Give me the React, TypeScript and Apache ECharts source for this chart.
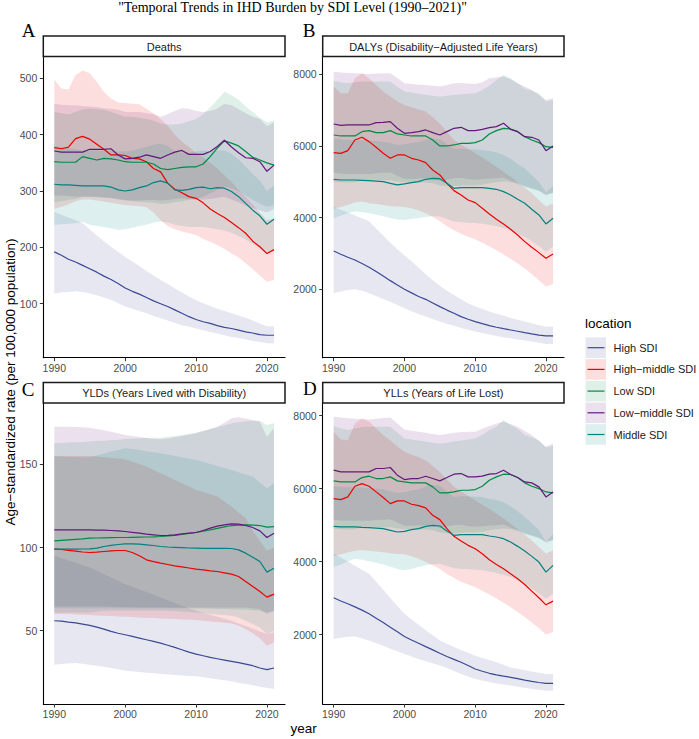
import React, { useEffect, useRef } from "react";
import * as echarts from "echarts";

// ---------- data ----------
const YEARS = [1990,1991,1992,1993,1994,1995,1996,1997,1998,1999,2000,2001,2002,2003,2004,2005,2006,2007,2008,2009,2010,2011,2012,2013,2014,2015,2016,2017,2018,2019,2020,2021];
const LOCATIONS = ["High SDI", "High\u2212middle SDI", "Low SDI", "Low\u2212middle SDI", "Middle SDI"];
const COLORS = ["#3B4992", "#EE0000", "#008B45", "#631879", "#008280"];
const PANEL_TITLES = ["Deaths", "DALYs (Disability\u2212Adjusted Life Years)", "YLDs (Years Lived with Disability)", "YLLs (Years of Life Lost)"];
const PANEL_LETTERS = ["A", "B", "C", "D"];
const X_TICKS = [1990, 2000, 2010, 2020];
const Y_TICKS_DEATHS = [100, 200, 300, 400, 500];
const Y_TICKS_DALYS = [2000, 4000, 6000, 8000];
const Y_TICKS_YLDS = [50, 100, 150];
const Y_TICKS_YLLS = [2000, 4000, 6000, 8000];

// Deaths
const DEATHS_HIGH = [192,186,179,174,168,162,156,149,143,136,128,122,117,111,105,100,95,89,83,77,72,68,65,61,58,56,53,50,48,45,44,44];
const DEATHS_HIGH_HI = [263,258,253,248,243,232,221,211,201,192,183,175,167,158,150,142,135,127,120,113,106,101,96,91,87,83,79,75,70,65,60,60];
const DEATHS_HIGH_LO = [118,120,121,122,121,118,115,111,107,101,95,91,87,83,78,74,70,66,62,59,56,53,50,47,44,41,39,37,34,32,30,30];
const DEATHS_HM = [377,375,378,393,397,392,383,374,364,364,363,358,357,352,340,334,314,303,297,290,287,279,268,260,253,244,235,225,211,201,189,196];
const DEATHS_HM_HI = [498,482,480,506,514,509,494,476,464,457,456,455,454,446,438,428,416,400,388,378,368,360,350,340,328,316,302,290,276,262,248,252];
const DEATHS_HM_LO = [268,272,276,282,285,285,283,281,279,277,275,274,273,271,262,248,238,232,228,225,222,215,210,204,197,189,182,172,161,150,139,142];
const DEATHS_LOW = [352,351,351,351,361,358,355,358,357,355,352,351,351,351,348,340,338,340,342,343,343,348,361,376,389,385,380,370,360,355,350,346];
const DEATHS_LOW_HI = [440,438,436,440,445,446,445,444,440,436,432,432,430,428,425,420,418,418,420,424,428,436,448,462,476,470,462,450,440,430,422,425];
const DEATHS_LOW_LO = [280,282,284,286,290,290,289,288,287,285,283,282,281,280,279,277,278,280,282,284,286,290,296,302,308,305,300,292,284,278,272,275];
const DEATHS_LM = [371,369,369,369,369,374,374,374,375,364,357,358,360,364,361,358,364,369,372,365,365,365,370,379,390,378,368,359,358,352,335,346];
const DEATHS_LM_HI = [455,453,452,452,451,450,449,447,446,444,440,440,440,438,436,432,436,442,447,446,442,440,442,446,455,452,445,438,432,428,415,422];
const DEATHS_LM_LO = [292,292,291,290,290,290,290,289,288,286,284,283,283,284,284,283,284,286,287,286,285,285,286,288,290,285,280,274,270,266,262,268];
const DEATHS_MID = [312,311,311,310,309,309,309,309,307,302,300,302,306,309,315,318,314,302,301,303,306,307,304,306,305,299,290,278,266,256,241,250];
const DEATHS_MID_HI = [380,378,376,374,372,372,372,372,371,370,370,372,375,378,382,384,380,370,368,368,370,372,370,372,372,366,356,343,330,318,300,310];
const DEATHS_MID_LO = [240,241,242,243,245,240,238,236,234,231,232,235,238,240,244,246,244,240,238,236,236,236,234,232,230,226,220,214,206,198,188,195];

// DALYs
const DALYS_HIGH = [3070,2980,2893,2819,2720,2614,2495,2372,2242,2120,2000,1900,1800,1720,1620,1516,1420,1330,1237,1165,1098,1040,986,940,900,865,830,791,755,720,698,698];
const DALYS_HIGH_HI = [4300,4220,4140,4060,3980,3900,3700,3500,3300,3120,2950,2780,2600,2420,2250,2100,1960,1840,1720,1610,1520,1450,1380,1320,1260,1200,1150,1100,1050,1000,960,960];
const DALYS_HIGH_LO = [1890,1940,1980,2000,1960,1890,1810,1730,1650,1560,1470,1390,1310,1240,1170,1100,1040,980,920,870,820,780,740,700,665,633,600,570,540,505,475,475];
const DALYS_HM = [5814,5795,5870,6167,6242,6121,5963,5795,5656,5749,5749,5656,5609,5535,5330,5191,4958,4754,4633,4493,4419,4260,4102,3954,3823,3675,3516,3330,3172,3023,2865,2986];
const DALYS_HM_HI = [7660,7470,7470,7890,8030,7890,7700,7520,7380,7250,7140,7080,7020,6960,6800,6630,6400,6170,6040,5920,5800,5680,5550,5420,5280,5140,4990,4840,4680,4490,4310,4400];
const DALYS_HM_LO = [4250,4300,4350,4420,4450,4400,4380,4350,4320,4310,4300,4260,4200,4120,4020,3900,3760,3650,3550,3470,3400,3300,3200,3090,2970,2850,2720,2580,2420,2250,2080,2150];
const DALYS_LOW = [6307,6279,6279,6279,6400,6428,6372,6372,6428,6335,6307,6279,6279,6279,6167,6000,6000,6028,6074,6074,6093,6167,6335,6428,6493,6474,6400,6260,6167,6093,5981,5963];
const DALYS_LOW_HI = [7820,7780,7750,7780,7800,7800,7800,7800,7800,7650,7520,7490,7460,7430,7400,7380,7400,7420,7440,7460,7470,7560,7680,7840,7980,7890,7750,7600,7540,7470,7240,7280];
const DALYS_LOW_LO = [5000,4990,4980,4990,5040,5060,5050,5040,5040,5010,4990,4980,4980,4980,4960,4900,4880,4880,4890,4900,4900,4920,4960,4990,5010,4990,4940,4860,4800,4740,4650,4680];
const DALYS_LM = [6614,6577,6586,6586,6586,6586,6651,6660,6679,6493,6353,6372,6400,6447,6372,6307,6400,6493,6521,6428,6428,6465,6512,6540,6633,6465,6400,6260,6242,6167,5870,6000];
const DALYS_LM_HI = [8070,8050,8040,8030,8020,8010,8020,8030,8030,7900,7750,7730,7710,7700,7680,7660,7700,7750,7760,7740,7730,7780,7890,7920,7940,7860,7750,7660,7560,7420,7280,7330];
const DALYS_LM_LO = [5250,5230,5220,5220,5220,5220,5240,5250,5260,5170,5080,5080,5090,5100,5070,5030,5060,5100,5110,5070,5060,5070,5090,5100,5120,5030,4970,4880,4820,4760,4620,4700];
const DALYS_MID = [5070,5051,5051,5051,5042,5033,5019,5005,4958,4912,4940,4977,5005,5070,5098,5088,4958,4819,4837,4837,4837,4837,4819,4791,4726,4633,4512,4400,4233,4075,3823,3981];
const DALYS_MID_HI = [6200,6180,6170,6170,6160,6150,6140,6120,6080,6030,6050,6080,6110,6170,6200,6190,6060,5920,5920,5910,5900,5890,5860,5820,5750,5640,5500,5370,5180,5000,4700,4880];
const DALYS_MID_LO = [3980,4050,4120,4170,4150,4120,4080,4040,3990,3950,3935,3960,3990,4020,4040,4030,3960,3890,3870,3860,3850,3830,3800,3760,3710,3650,3560,3460,3340,3210,3050,3200];

// YLDs
const YLDS_HIGH = [56,55.8,55.2,54.7,54,53.2,52.2,51,49.6,48.5,47.6,46.6,45.6,44.6,43.6,42.6,41.3,40,38.6,37.2,36,35,34,33.2,32.4,31.6,30.8,30,29,27.6,26.6,27.6];
const YLDS_HIGH_HI = [95,93.6,92.2,90.8,89.4,88,86,84,82,80,78,76.4,74.8,73.2,71.6,70,68.3,66.6,65,63.5,62,60.8,59.6,58.4,57.2,56,54.4,52.8,51.2,49.6,48,49];
const YLDS_HIGH_LO = [29.6,30,30.4,30.6,30.2,29.6,29,28.4,27.6,26.8,26,25.6,25.2,24.8,24.4,24,23.7,23.4,23.1,22.8,22.6,22,21.4,20.8,20.2,19.6,18.8,18,17.2,16.4,15.6,15];
const YLDS_HM = [99,98.8,98.3,97.8,97.3,97,97.2,97.6,98,98.2,98.2,97,95,92.6,91.5,90.6,89.8,89,88.4,87.7,87,86.6,86,85.6,84.8,84,82.6,79.6,76.6,73.6,70.2,72];
const YLDS_HM_HI = [155,155,155,155,155,155,154.6,154.2,153.8,153.4,153,151.5,150,148.6,146.6,144.6,142.6,140.6,138.6,136.6,134.6,133.3,132,130.6,127.6,124.6,121,117.6,110,104,98,100];
const YLDS_HM_LO = [60,60,60,59.8,59.6,59.4,59.2,59,58.8,58.6,58.4,58.2,58,57.8,57.6,57.4,57.2,57,56.8,56.6,56.4,56,55.6,55.2,54.8,54.4,53,51,48.5,45.5,41,43];
const YLDS_LOW = [104,104.3,104.6,104.9,105.2,105.6,105.7,105.8,105.9,106,106,106.1,106.2,106.3,106.4,106.6,106.9,107.3,107.8,108.4,109,109.8,110.6,111.5,112.4,113.2,113.5,113.6,113.5,113.2,112.2,112.6];
const YLDS_LOW_HI = [162.6,162.8,163,163.2,163.4,163.6,163.9,164.2,164.5,164.8,165.2,165.4,165.6,165.8,166,166,166.5,167,167.6,168.3,169,170,171,172.2,173.4,174.6,175.2,175.8,176.2,176.2,173.6,174.6];
const YLDS_LOW_LO = [63.5,63.5,63.5,63.5,63.5,63.5,63.5,63.5,63.5,63.5,63.5,63.5,63.5,63.5,63.5,63.5,63.5,63.5,63.5,63.5,63.4,63.3,63.2,63.1,63,62.9,62.8,62.6,62.3,62,61,62];
const YLDS_LM = [110.6,110.6,110.6,110.6,110.6,110.6,110.5,110.4,110.2,110,109.6,109.1,108.6,108,107.6,107.2,107.3,107.6,108.2,108.6,109,110.2,111.6,112.8,113.6,114.2,114,113.2,112,110,106,108.6];
const YLDS_LM_HI = [172.6,172.6,172.5,172.4,172.2,172,171.2,170.4,169.5,168.6,167.6,167,166.4,165.8,165.2,165,165.5,166.2,167,167.8,168.6,170,171.4,172.6,175,177.6,178.2,177.5,176.6,175.6,166.6,171.6];
const YLDS_LM_LO = [64.5,64.5,64.5,64.5,64.5,64.5,64.5,64.5,64.4,64.3,64.2,64.1,64,64,64,64,64,64,64,64,64,64,64,64,64,64,64,64,63.5,63,60,62];
const YLDS_MID = [99,99,99,99,99.1,99.2,99.6,100.6,101.3,101.8,102.2,102.2,102,101.6,101.2,100.6,100.3,100.1,99.9,99.7,99.6,99.5,99.5,99.5,99.5,99.4,98.6,96.6,94.2,91.6,85.2,87.6];
const YLDS_MID_HI = [154.6,154.5,154.4,154.3,154.2,154.2,155.2,156.4,157.6,158.6,159.6,159.2,158.6,157.8,157.2,156.6,155.8,155,154.2,153.4,152.6,151.4,150.2,149,147.8,146.6,145.2,143.8,142.6,139,135.6,138.6];
const YLDS_MID_LO = [61,61,61,61,61,61,61.5,62,62,62,62,62,62,62,62,62,62,61.8,61.5,61.3,61,60.6,60.2,59.8,59.4,59,58,56,54,52,48,50];

// YLLs
const YLLS_HIGH = [3008,2920,2843,2760,2670,2568,2450,2330,2202,2080,1945,1850,1762,1670,1580,1487,1400,1320,1240,1150,1057,995,938,895,860,828,790,752,718,685,663,663];
const YLLS_HIGH_HI = [4220,4110,4000,3890,3780,3670,3450,3230,3000,2780,2570,2420,2270,2120,1980,1835,1750,1660,1580,1500,1420,1360,1300,1240,1170,1100,1060,1020,985,950,920,920];
const YLLS_HIGH_LO = [1880,1910,1940,1945,1890,1835,1760,1690,1610,1540,1470,1400,1330,1270,1210,1150,1080,1000,920,850,780,740,700,660,630,600,570,540,510,485,460,460];
const YLLS_HM = [5728,5701,5774,6067,6140,6067,5912,5756,5591,5664,5664,5573,5536,5472,5270,5151,4904,4693,4565,4446,4354,4217,4052,3924,3805,3667,3530,3374,3191,3008,2815,2916];
const YLLS_HM_HI = [7560,7350,7330,7790,7930,7840,7650,7470,7320,7160,7010,6940,6860,6780,6620,6460,6250,6050,5930,5800,5680,5560,5440,5320,5180,5040,4890,4740,4580,4400,4220,4310];
const YLLS_HM_LO = [4150,4200,4250,4300,4320,4300,4280,4260,4230,4210,4200,4150,4080,3990,3900,3800,3660,3550,3450,3370,3300,3200,3100,2990,2870,2750,2620,2480,2330,2170,2000,2060];
const YLLS_LOW = [6214,6186,6186,6186,6305,6342,6278,6278,6324,6214,6186,6159,6159,6159,6049,5884,5884,5912,5957,5957,5976,6067,6232,6324,6397,6388,6305,6159,6067,6003,5911,5884];
const YLLS_LOW_HI = [7716,7660,7606,7650,7690,7698,7698,7698,7698,7540,7377,7350,7320,7290,7260,7240,7260,7290,7320,7350,7377,7480,7600,7698,7881,7744,7640,7469,7400,7331,7130,7167];
const YLLS_LOW_LO = [4900,4890,4880,4890,4940,4960,4950,4940,4940,4910,4890,4880,4880,4880,4860,4800,4780,4780,4790,4800,4800,4820,4860,4890,4910,4890,4840,4760,4700,4640,4550,4580];
const YLLS_LM = [6507,6461,6461,6461,6461,6461,6553,6553,6580,6370,6250,6278,6278,6342,6278,6214,6305,6397,6415,6324,6324,6342,6397,6415,6507,6388,6305,6186,6159,6049,5774,5911];
const YLLS_LM_HI = [7973,7950,7930,7915,7905,7900,7920,7940,7954,7790,7624,7590,7560,7530,7500,7469,7500,7530,7550,7560,7560,7640,7720,7789,7835,7770,7698,7580,7469,7310,7148,7240];
const YLLS_LM_LO = [5150,5130,5120,5120,5120,5120,5140,5150,5160,5070,4980,4980,4990,5000,4970,4930,4960,5000,5010,4970,4960,4970,4990,5000,5020,4930,4870,4780,4720,4660,4520,4600];
const YLLS_MID = [4968,4950,4950,4950,4940,4931,4918,4904,4858,4812,4831,4876,4904,4968,4996,4977,4840,4721,4739,4739,4739,4739,4702,4675,4629,4537,4418,4290,4144,3988,3713,3896];
const YLLS_MID_HI = [6070,6050,6040,6040,6030,6020,6000,5980,5930,5880,5900,5950,5980,6060,6100,6080,5920,5770,5790,5790,5780,5770,5720,5690,5630,5520,5380,5230,5050,4870,4540,4760];
const YLLS_MID_LO = [3850,3920,4000,4080,4050,4010,3970,3920,3860,3800,3760,3800,3850,3900,3930,3940,3880,3820,3800,3790,3780,3760,3730,3690,3640,3580,3490,3390,3260,3130,2980,3120];

// ---------- assembly ----------
type Trio = { val: number[]; lo: number[]; hi: number[] };
const PANEL_DATA: Trio[][] = [
  [
    { val: DEATHS_HIGH, lo: DEATHS_HIGH_LO, hi: DEATHS_HIGH_HI },
    { val: DEATHS_HM, lo: DEATHS_HM_LO, hi: DEATHS_HM_HI },
    { val: DEATHS_LOW, lo: DEATHS_LOW_LO, hi: DEATHS_LOW_HI },
    { val: DEATHS_LM, lo: DEATHS_LM_LO, hi: DEATHS_LM_HI },
    { val: DEATHS_MID, lo: DEATHS_MID_LO, hi: DEATHS_MID_HI },
  ],
  [
    { val: DALYS_HIGH, lo: DALYS_HIGH_LO, hi: DALYS_HIGH_HI },
    { val: DALYS_HM, lo: DALYS_HM_LO, hi: DALYS_HM_HI },
    { val: DALYS_LOW, lo: DALYS_LOW_LO, hi: DALYS_LOW_HI },
    { val: DALYS_LM, lo: DALYS_LM_LO, hi: DALYS_LM_HI },
    { val: DALYS_MID, lo: DALYS_MID_LO, hi: DALYS_MID_HI },
  ],
  [
    { val: YLDS_HIGH, lo: YLDS_HIGH_LO, hi: YLDS_HIGH_HI },
    { val: YLDS_HM, lo: YLDS_HM_LO, hi: YLDS_HM_HI },
    { val: YLDS_LOW, lo: YLDS_LOW_LO, hi: YLDS_LOW_HI },
    { val: YLDS_LM, lo: YLDS_LM_LO, hi: YLDS_LM_HI },
    { val: YLDS_MID, lo: YLDS_MID_LO, hi: YLDS_MID_HI },
  ],
  [
    { val: YLLS_HIGH, lo: YLLS_HIGH_LO, hi: YLLS_HIGH_HI },
    { val: YLLS_HM, lo: YLLS_HM_LO, hi: YLLS_HM_HI },
    { val: YLLS_LOW, lo: YLLS_LOW_LO, hi: YLLS_LOW_HI },
    { val: YLLS_LM, lo: YLLS_LM_LO, hi: YLLS_LM_HI },
    { val: YLLS_MID, lo: YLLS_MID_LO, hi: YLLS_MID_HI },
  ],
];
const Y_TICKS = [Y_TICKS_DEATHS, Y_TICKS_DALYS, Y_TICKS_YLDS, Y_TICKS_YLLS];

// layout (pixels)
const GRIDS = [
  { left: 43.3, top: 56.5, width: 241.7, height: 301.2 },
  { left: 322.7, top: 56.5, width: 241.3, height: 301.2 },
  { left: 43.3, top: 403, width: 241.7, height: 301 },
  { left: 322.7, top: 403, width: 241.3, height: 301 },
];
const Y_RANGES = [
  [4.2, 538.7],
  [91, 8497],
  [6, 186.8],
  [96, 8349],
];
const X_RANGE = [1988.45, 2022.55];
const BAND_ALPHA = 0.13;
const SANS = "'Liberation Sans', Arial, Helvetica, sans-serif";
const SERIF = "'Liberation Serif', 'Times New Roman', serif";

function rgba(hex: string, a: number) {
  const n = parseInt(hex.slice(1), 16);
  return `rgba(${(n >> 16) & 255},${(n >> 8) & 255},${n & 255},${a})`;
}

function buildOption() {
  const grid = GRIDS.map((g) => ({ ...g, containLabel: false }));
  const xAxis = GRIDS.map((_, p) => ({
    type: "value",
    gridIndex: p,
    min: X_RANGE[0],
    max: X_RANGE[1],
    splitLine: { show: false },
    axisLine: { show: true, onZero: false, lineStyle: { color: "#000", width: 1.1 } },
    axisTick: { show: true, customValues: X_TICKS, length: 3.5, lineStyle: { color: "#333", width: 1 } },
    axisLabel: {
      customValues: X_TICKS,
      color: "#4D4D4D",
      fontSize: 10.5,
      fontFamily: SANS,
      margin: 4.5,
      formatter: (v: number) => String(v),
    },
  }));
  const yAxis = GRIDS.map((_, p) => ({
    type: "value",
    gridIndex: p,
    min: Y_RANGES[p][0],
    max: Y_RANGES[p][1],
    splitLine: { show: false },
    axisLine: { show: true, onZero: false, lineStyle: { color: "#000", width: 1.1 } },
    axisTick: { show: true, customValues: Y_TICKS[p], length: 3.5, lineStyle: { color: "#333", width: 1 } },
    axisLabel: {
      customValues: Y_TICKS[p],
      color: "#4D4D4D",
      fontSize: 10.5,
      fontFamily: SANS,
      margin: 6,
      formatter: (v: number) => String(v),
    },
  }));

  const series: any[] = [];
  // ribbons first
  PANEL_DATA.forEach((panel, p) => {
    panel.forEach((d, k) => {
      series.push({
        type: "custom",
        name: LOCATIONS[k] + " band",
        xAxisIndex: p,
        yAxisIndex: p,
        silent: true,
        data: YEARS.map((y, j) => [y, d.lo[j], d.hi[j]]),
        encode: { x: 0, y: [1, 2] },
        renderItem: (params: any, api: any) => {
          if (params.dataIndex !== 0) return null;
          const pts: number[][] = [];
          for (let j = 0; j < YEARS.length; j++) pts.push(api.coord([YEARS[j], d.hi[j]]));
          for (let j = YEARS.length - 1; j >= 0; j--) pts.push(api.coord([YEARS[j], d.lo[j]]));
          return {
            type: "polygon",
            shape: { points: pts },
            style: { fill: rgba(COLORS[k], BAND_ALPHA), stroke: "none" },
            silent: true,
          };
        },
      });
    });
  });
  // lines
  PANEL_DATA.forEach((panel, p) => {
    panel.forEach((d, k) => {
      series.push({
        type: "line",
        name: LOCATIONS[k],
        xAxisIndex: p,
        yAxisIndex: p,
        showSymbol: false,
        symbol: "none",
        silent: true,
        data: YEARS.map((y, j) => [y, d.val[j]]),
        lineStyle: { color: COLORS[k], width: 1.2 },
        itemStyle: { color: COLORS[k] },
      });
    });
  });

  const graphic: any[] = [];
  // title
  graphic.push({
    type: "text",
    x: 292.5,
    y: 7.5,
    style: {
      text: "\"Temporal Trends in IHD Burden by SDI Level (1990\u20132021)\"",
      fontSize: 14,
      fontFamily: SERIF,
      fill: "#000",
      align: "center",
      verticalAlign: "middle",
    },
  });
  // strips + letters
  const letterPos = [
    [21.7, 30.5],
    [302.7, 30.5],
    [21.7, 389.5],
    [303, 388],
  ];
  GRIDS.forEach((g, p) => {
    const stripH = 20.5;
    const sy = g.top - stripH;
    graphic.push({
      type: "rect",
      shape: { x: g.left, y: sy, width: g.width, height: stripH },
      style: { fill: "#fff", stroke: "#1a1a1a", lineWidth: 1.5 },
      z: 10,
    });
    graphic.push({
      type: "text",
      x: g.left + g.width / 2,
      y: sy + stripH / 2 + 0.5,
      z: 11,
      style: {
        text: PANEL_TITLES[p],
        fontSize: 11,
        fontFamily: SANS,
        fill: "#1A1A1A",
        align: "center",
        verticalAlign: "middle",
      },
    });
    graphic.push({
      type: "text",
      x: letterPos[p][0],
      y: letterPos[p][1],
      z: 11,
      style: {
        text: PANEL_LETTERS[p],
        fontSize: 19,
        fontFamily: SERIF,
        fill: "#000",
        align: "left",
        verticalAlign: "middle",
      },
    });
  });
  // axis titles
  graphic.push({
    type: "text",
    x: 10.5,
    y: 382,
    rotation: Math.PI / 2,
    style: {
      text: "Age\u2212standardized rate (per 100,000 population)",
      fontSize: 13.5,
      fontFamily: SANS,
      fill: "#000",
      align: "center",
      verticalAlign: "middle",
    },
  });
  graphic.push({
    type: "text",
    x: 303.7,
    y: 728,
    style: {
      text: "year",
      fontSize: 13.5,
      fontFamily: SANS,
      fill: "#000",
      align: "center",
      verticalAlign: "middle",
    },
  });
  // legend
  graphic.push({
    type: "text",
    x: 585,
    y: 323.5,
    style: {
      text: "location",
      fontSize: 13.5,
      fontFamily: SANS,
      fill: "#000",
      align: "left",
      verticalAlign: "middle",
    },
  });
  LOCATIONS.forEach((name, k) => {
    const cy = 347.7 + k * 21.7;
    graphic.push({
      type: "rect",
      shape: { x: 585.5, y: cy - 10.3, width: 20.5, height: 20.6 },
      style: { fill: rgba(COLORS[k], BAND_ALPHA), stroke: "none" },
    });
    graphic.push({
      type: "line",
      shape: { x1: 587.5, y1: cy, x2: 604.5, y2: cy },
      style: { stroke: COLORS[k], lineWidth: 1.2 },
    });
    graphic.push({
      type: "text",
      x: 613.5,
      y: cy,
      style: {
        text: name,
        fontSize: 11,
        fontFamily: SANS,
        fill: "#1A1A1A",
        align: "left",
        verticalAlign: "middle",
      },
    });
  });

  return {
    animation: false,
    backgroundColor: "#fff",
    grid,
    xAxis,
    yAxis,
    series,
    graphic,
  };
}

export default function App() {
  const ref = useRef<HTMLDivElement>(null);
  useEffect(() => {
    if (!ref.current) return;
    const chart = echarts.init(ref.current, undefined, { renderer: "svg" });
    chart.setOption(buildOption() as any);
    return () => chart.dispose();
  }, []);
  return (
    <div
      ref={ref}
      style={{ position: "absolute", left: 0, top: 0, width: 699, height: 739, background: "#fff" }}
    />
  );
}
